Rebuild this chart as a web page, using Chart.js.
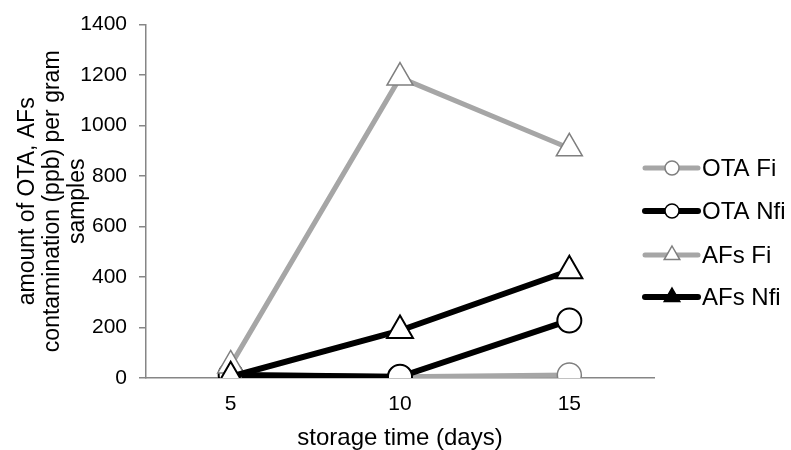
<!DOCTYPE html>
<html>
<head>
<meta charset="utf-8">
<script src="https://cdn.jsdelivr.net/npm/chart.js@4"></script>
<style>
  html, body { margin: 0; padding: 0; background: #fff; }
  #wrap { width: 791px; height: 450px; }
</style>
</head>
<body>
<div id="wrap"><canvas id="chart"></canvas></div>
<script>
"use strict";

// 1: data
const days = ['5', '10', '15'];
const otaFi = [15, 5, 12];
const otaNfi = [12, 5, 228];
const afsFi = [50, 1190, 910];
const afsNfi = [5, 188, 425];
const yMin = 0;
const yMax = 1400;
const yStep = 200;

const FONT = '"Liberation Sans", Arial, sans-serif';
const GREY = '#a6a6a6';
const GREY_EDGE = '#7f7f7f';

// 2: legend on the right, line sample + marker like the spreadsheet one
const legendRows = [168, 211, 255, 297];
const sideLegend = {
  id: 'sideLegend',
  afterDraw(chart) {
    const ctx = chart.ctx;
    chart.data.datasets.forEach((ds, i) => {
      const y = legendRows[i];
      ctx.save();
      ctx.strokeStyle = ds.borderColor;
      ctx.lineWidth = ds.borderWidth;
      ctx.lineCap = 'round';
      ctx.beginPath();
      ctx.moveTo(645, y);
      ctx.lineTo(698, y);
      ctx.stroke();

      const x = 672;
      ctx.fillStyle = ds.legendFill;
      ctx.strokeStyle = ds.pointBorderColor;
      ctx.lineWidth = 1.5;
      ctx.beginPath();
      if (ds.pointStyle === 'circle') {
        ctx.arc(x, y, 7, 0, Math.PI * 2);
      } else {
        const r = 9;
        ctx.moveTo(x, y - r);
        ctx.lineTo(x + r * 0.866, y + r / 2);
        ctx.lineTo(x - r * 0.866, y + r / 2);
        ctx.closePath();
      }
      ctx.fill();
      ctx.stroke();

      ctx.fillStyle = '#000';
      ctx.font = '24px ' + FONT;
      ctx.textBaseline = 'middle';
      ctx.textAlign = 'left';
      ctx.fillText(ds.label, 702, y + 1);
      ctx.restore();
    });
  }
};

// 3: chart
function appendChart() {
  const chartContainer = document.getElementById('chart');
  new Chart(chartContainer, {
    type: 'line',
    data: {
      labels: days,
      datasets: [{
        label: 'OTA Fi',
        data: otaFi,
        borderColor: GREY,
        borderWidth: 5,
        pointStyle: 'circle',
        pointRadius: 12,
        pointBackgroundColor: '#fff',
        pointBorderColor: GREY_EDGE,
        pointBorderWidth: 1.5,
        legendFill: '#fff',
        order: 4
      },
      {
        label: 'OTA Nfi',
        data: otaNfi,
        borderColor: '#000',
        borderWidth: 6,
        pointStyle: 'circle',
        pointRadius: 12,
        pointBackgroundColor: '#fff',
        pointBorderColor: '#000',
        pointBorderWidth: 2,
        legendFill: '#fff',
        order: 3
      },
      {
        label: 'AFs Fi',
        data: afsFi,
        borderColor: GREY,
        borderWidth: 5,
        pointStyle: 'triangle',
        pointRadius: 15,
        pointBackgroundColor: '#fff',
        pointBorderColor: GREY_EDGE,
        pointBorderWidth: 1.5,
        legendFill: '#fff',
        order: 2
      },
      {
        label: 'AFs Nfi',
        data: afsNfi,
        borderColor: '#000',
        borderWidth: 6,
        pointStyle: 'triangle',
        pointRadius: 15,
        pointBackgroundColor: '#fff',
        pointBorderColor: '#000',
        pointBorderWidth: 2,
        legendFill: '#000',
        order: 1
      }]
    },
    options: {
      responsive: true,
      maintainAspectRatio: false,
      animation: false,
      layout: {
        padding: { top: 22, right: 137, bottom: 0, left: 0 }
      },
      elements: {
        line: { tension: 0, borderCapStyle: 'round', borderJoinStyle: 'round' }
      },
      plugins: {
        legend: { display: false },
        tooltip: { enabled: false }
      },
      scales: {
        x: {
          offset: true,
          afterFit(scale) { scale.height = 72; },
          grid: { display: false, drawTicks: false },
          border: { display: true, color: '#868686', width: 1.5 },
          ticks: {
            color: '#000',
            padding: 14,
            font: { family: FONT, size: 21 }
          },
          title: {
            display: true,
            text: 'storage time (days)',
            color: '#000',
            font: { family: FONT, size: 24, lineHeight: 1.0 },
            padding: { top: 0, bottom: 0 }
          }
        },
        y: {
          min: yMin,
          max: yMax,
          afterFit(scale) { scale.width = 146; },
          ticks: {
            stepSize: yStep,
            color: '#000',
            padding: 12,
            font: { family: FONT, size: 21 },
            callback: (v) => String(v)
          },
          grid: {
            drawOnChartArea: false,
            drawTicks: true,
            tickLength: 7,
            color: '#868686',
            lineWidth: 1.5
          },
          border: { display: true, color: '#868686', width: 1.5 },
          title: {
            display: true,
            text: ['amount of OTA, AFs', 'contamination (ppb) per gram', 'samples'],
            color: '#000',
            font: { family: FONT, size: 23, lineHeight: 1.09 },
            padding: { top: 15, bottom: 0 }
          }
        }
      }
    },
    plugins: [sideLegend]
  });
}

appendChart();
</script>
</body>
</html>
